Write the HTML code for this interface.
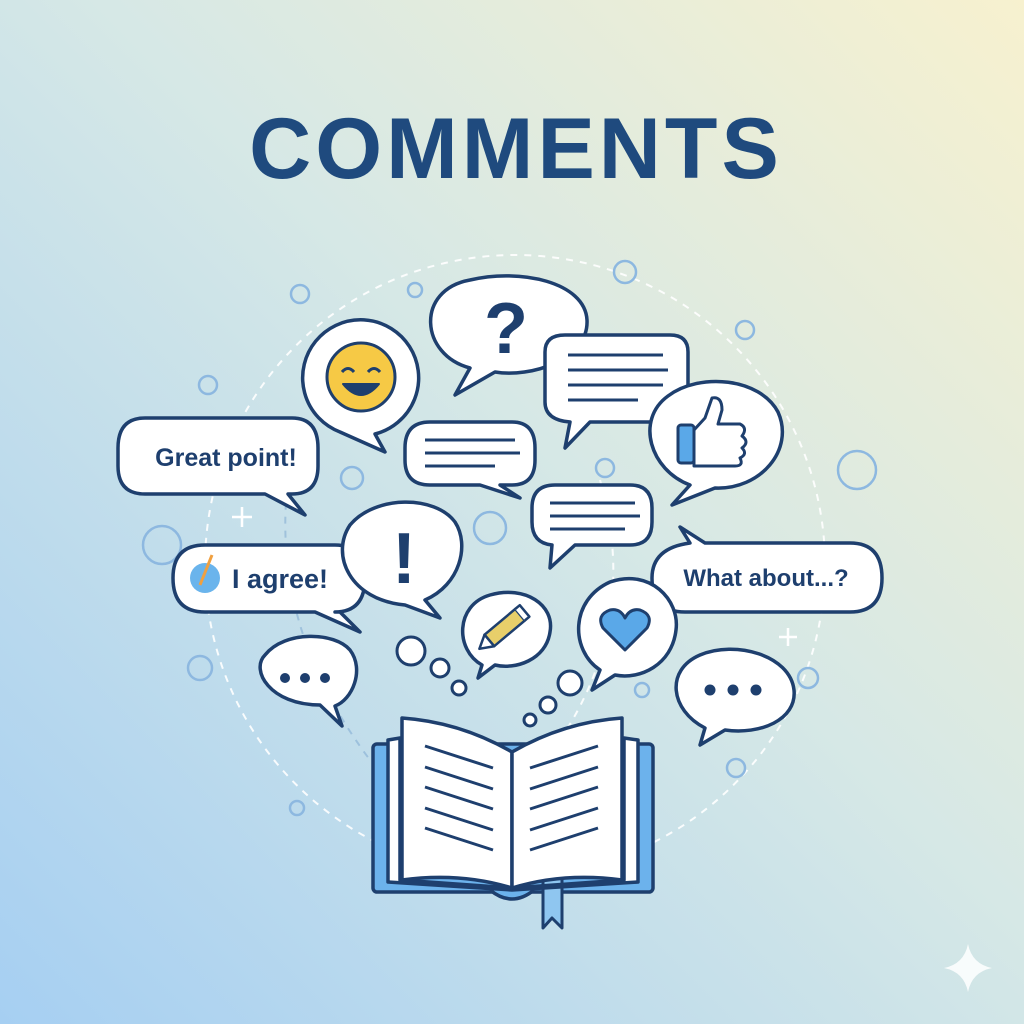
<!DOCTYPE html>
<html><head><meta charset="utf-8"><style>
html,body{margin:0;padding:0;width:1024px;height:1024px;overflow:hidden}
svg{display:block}
text{font-family:"Liberation Sans",sans-serif}
</style></head><body>
<svg width="1024" height="1024" viewBox="0 0 1024 1024">
<defs>
<linearGradient id="bg" x1="1" y1="0" x2="0" y2="1">
<stop offset="0" stop-color="#f7f1cf"/><stop offset="0.45" stop-color="#d6e8e6"/><stop offset="1" stop-color="#a6cff2"/>
</linearGradient>
</defs>
<rect width="1024" height="1024" fill="url(#bg)"/>
<text x="516" y="178" text-anchor="middle" font-size="86" font-weight="bold" fill="#1f4a7e" letter-spacing="4">COMMENTS</text>

<g fill="none" stroke="#ffffff" stroke-width="2" stroke-dasharray="7 7" opacity="0.9">
<circle cx="515" cy="565" r="310"/>
<path d="M300 420 Q250 600 370 760" stroke="#7fa8d0" opacity="0.6"/>
<path d="M600 480 Q640 620 560 740"/>
</g>
<g fill="none" stroke="#8db8e0" stroke-width="2.5">
<circle cx="300" cy="294" r="9"/><circle cx="415" cy="290" r="7"/><circle cx="625" cy="272" r="11"/>
<circle cx="745" cy="330" r="9"/><circle cx="208" cy="385" r="9"/><circle cx="162" cy="545" r="19"/>
<circle cx="200" cy="668" r="12"/><circle cx="297" cy="808" r="7"/><circle cx="857" cy="470" r="19"/>
<circle cx="808" cy="678" r="10"/><circle cx="736" cy="768" r="9"/><circle cx="605" cy="468" r="9"/>
<circle cx="352" cy="478" r="11"/><circle cx="490" cy="528" r="16"/><circle cx="642" cy="690" r="7"/>
</g>
<g stroke="#ffffff" stroke-width="2.5">
<path d="M242 507v20M232 517h20"/><path d="M788 628v18M779 637h18"/>
</g>

<g fill="#ffffff" stroke="#1e3f6e" stroke-width="3.5" stroke-linejoin="round">
<g>
<path d="M340 432 A58 58 0 1 1 375 434 L385 452 Z"/>
<circle cx="361" cy="377" r="34" fill="#f6c945" stroke="#1e3f6e" stroke-width="3"/>
<path d="M342 372 q6-7 12 0 M368 372 q6-7 12 0" fill="none" stroke-width="3"/>
<path d="M343 384 q18 22 36 0 z" fill="#1e3f6e" stroke-width="2"/>
</g>
<g>
<path d="M470 368 C420 355 415 290 470 280 C520 268 585 282 587 320 C589 360 530 378 495 372 L455 395 Z"/>
<text x="506" y="353" text-anchor="middle" font-size="72" font-weight="bold" fill="#1e3f6e" stroke="none">?</text>
</g>
<g>
<path d="M565 335 H670 Q688 335 688 352 V405 Q688 422 670 422 H590 L565 448 L570 422 Q545 420 545 402 V352 Q545 335 565 335 Z"/>
<path d="M568 355h95M568 370h100M568 385h95M568 400h70" stroke-width="3" fill="none"/>
</g>
<g>
<path d="M690 485 C650 470 635 420 668 396 C700 372 760 378 778 412 C795 450 760 490 715 488 L672 505 Z"/>
<rect x="678" y="425" width="16" height="38" rx="3" fill="#5aa8e8" stroke-width="3"/>
<path d="M694 430 L705 418 L712 398 Q722 396 722 410 L718 424 H740 Q748 428 742 436 Q750 442 742 448 Q748 454 740 458 Q744 466 735 466 H694 Z" fill="#ffffff" stroke-width="3"/>
</g>
<g>
<path d="M145 418 H292 Q318 418 318 448 V466 Q318 494 292 494 H288 L305 515 L265 494 H145 Q118 494 118 466 V448 Q118 418 145 418 Z"/>
<text x="226" y="466" text-anchor="middle" font-size="25" font-weight="bold" fill="#1e3f6e" stroke="none">Great point!</text>
</g>
<g>
<path d="M430 422 H512 Q535 422 535 448 V460 Q535 485 512 485 H500 L520 498 L480 485 H430 Q405 485 405 460 V448 Q405 422 430 422 Z"/>
<path d="M425 440h90M425 453h95M425 466h70" stroke-width="3" fill="none"/>
</g>
<g>
<path d="M555 485 H630 Q652 485 652 508 V522 Q652 545 630 545 H575 L550 568 L552 545 Q532 543 532 522 V508 Q532 485 555 485 Z"/>
<path d="M550 503h85M550 516h90M550 529h75" stroke-width="3" fill="none"/>
</g>
<g>
<path d="M205 545 H335 Q365 545 365 578 Q365 612 335 612 H340 L360 632 L315 612 H205 Q173 612 173 578 Q173 545 205 545 Z"/>
<circle cx="205" cy="578" r="15" fill="#6ab4ec" stroke="none"/>
<path d="M212 555 L200 585" stroke="#f0a040" stroke-width="3"/>
<text x="232" y="588" font-size="27" font-weight="bold" fill="#1e3f6e" stroke="none">I agree!</text>
</g>
<g>
<path d="M425 600 C460 585 470 545 455 522 C435 495 375 495 350 525 C330 555 350 600 405 605 L440 618 Z"/>
<text x="404" y="583" text-anchor="middle" font-size="72" font-weight="bold" fill="#1e3f6e" stroke="none">!</text>
</g>
<g>
<path d="M690 543 L680 527 L705 543 H850 Q882 543 882 578 Q882 612 850 612 H685 Q652 612 652 578 Q652 548 690 543 Z"/>
<text x="766" y="586" text-anchor="middle" font-size="24" font-weight="bold" fill="#1e3f6e" stroke="none">What about...?</text>
</g>
<g>
<path d="M482 665 C455 650 455 605 490 595 C525 585 555 605 550 632 C546 660 515 670 495 665 L478 678 Z"/>
<g transform="rotate(-40 505 628)"><rect x="485" y="620" width="40" height="15" fill="#e8cf6a" stroke-width="2.5"/><path d="M485 620 L472 627.5 L485 635 Z" stroke-width="2.5"/><path d="M525 620 h6 v15 h-6" stroke-width="2.5"/></g>
</g>
<g>
<path d="M600 670 C570 650 570 600 610 582 C650 568 680 600 676 630 C672 665 640 680 615 675 L592 690 Z"/>
<path d="M625 650 L603 628 Q596 615 610 610 Q620 608 625 618 Q630 608 640 610 Q654 615 647 628 Z" fill="#5aa8e8" stroke-width="3"/>
</g>
<g>
<path d="M320 705 C270 705 250 670 265 655 C285 630 335 632 350 650 C365 670 352 700 335 706 L342 726 Z"/>
<circle cx="285" cy="678" r="5" fill="#1e3f6e" stroke="none"/><circle cx="305" cy="678" r="5" fill="#1e3f6e" stroke="none"/><circle cx="325" cy="678" r="5" fill="#1e3f6e" stroke="none"/>
</g>
<g>
<path d="M705 728 C670 710 665 670 700 655 C735 640 790 655 794 690 C797 720 760 735 725 730 L700 745 Z"/>
<circle cx="710" cy="690" r="5.5" fill="#1e3f6e" stroke="none"/><circle cx="733" cy="690" r="5.5" fill="#1e3f6e" stroke="none"/><circle cx="756" cy="690" r="5.5" fill="#1e3f6e" stroke="none"/>
</g>
<g stroke-width="3">
<circle cx="411" cy="651" r="14"/><circle cx="440" cy="668" r="9"/><circle cx="459" cy="688" r="7"/>
<circle cx="570" cy="683" r="12"/><circle cx="548" cy="705" r="8"/><circle cx="530" cy="720" r="6"/>
</g>
</g>

<g stroke="#1e3f6e" stroke-width="3.5" stroke-linejoin="round">
<rect x="373" y="744" width="280" height="148" rx="4" fill="#6cb2ec"/>
<path d="M490 890 q22 18 44 0" fill="#6cb2ec"/>
<path d="M543 880 V928 L552 918 L562 928 V880" fill="#8fc6f0" stroke-width="3"/>
<path d="M388 740 L400 738 V880 L512 888 L624 880 V738 L638 740 V882 L512 890 L388 882 Z" fill="#ffffff"/>
<path d="M402 718 Q460 722 512 752 V888 Q460 872 402 880 Z" fill="#ffffff"/>
<path d="M622 718 Q564 722 512 752 V888 Q564 872 622 880 Z" fill="#ffffff"/>
<g stroke-width="3" fill="none">
<path d="M425 746 L493 768 M425 767 L493 789 M425 787 L493 809 M425 808 L493 830 M425 828 L493 850"/>
<path d="M530 768 L598 746 M530 789 L598 767 M530 809 L598 787 M530 830 L598 808 M530 850 L598 828"/>
</g>
</g>

<path d="M968 944 Q972 964 992 968 Q972 972 968 992 Q964 972 944 968 Q964 964 968 944 Z" fill="#ffffff" opacity="0.85"/>
</svg>
</body></html>
